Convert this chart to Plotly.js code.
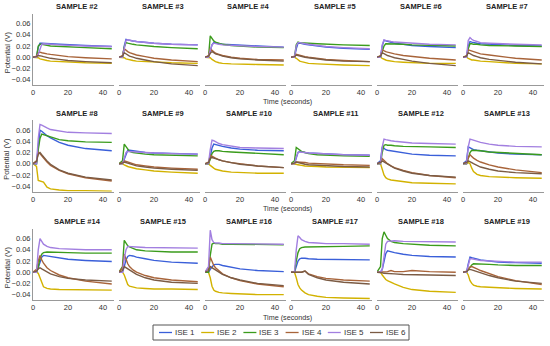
<!DOCTYPE html>
<html>
<head>
<meta charset="utf-8">
<script src="https://cdn.plot.ly/plotly-3.0.1.min.js"></script>
<style>html,body{margin:0;padding:0;background:#fff;}#chart{width:550px;height:346px;}</style>
</head>
<body>
<div id="chart"></div>
<script>
// Time axis (seconds)
const T = [0, 2, 3, 4, 5, 6, 8, 10, 15, 20, 30, 45];
const seriesNames = ['ISE 1', 'ISE 2', 'ISE 3', 'ISE 4', 'ISE 5', 'ISE 6'];
const seriesColors = ['#3a5fd9', '#d2b200', '#3b9c1c', '#a8643a', '#a27fe0', '#7b5b44'];
const sampleNames = ['SAMPLE #2','SAMPLE #3','SAMPLE #4','SAMPLE #5','SAMPLE #6','SAMPLE #7',
  'SAMPLE #8','SAMPLE #9','SAMPLE #10','SAMPLE #11','SAMPLE #12','SAMPLE #13',
  'SAMPLE #14','SAMPLE #15','SAMPLE #16','SAMPLE #17','SAMPLE #18','SAMPLE #19'];
const yTicks = [-0.04, -0.02, 0, 0.02, 0.04, 0.06];
const xTicks = [0, 20, 40];

// Potential (V) per sample: rows = ISE 1..6
const s2 = [
  [0,0,0.018,0.025,0.025,0.025,0.024,0.024,0.023,0.022,0.021,0.019],
  [0,0,-0.001,-0.003,-0.004,-0.005,-0.006,-0.007,-0.008,-0.009,-0.010,-0.011],
  [0,0,0.020,0.023,0.023,0.022,0.021,0.020,0.019,0.018,0.017,0.015],
  [0,0.002,0.008,0.009,0.008,0.007,0.006,0.005,0.003,0.001,-0.001,-0.003],
  [0,0,0.005,0.015,0.023,0.024,0.024,0.023,0.022,0.021,0.020,0.019],
  [0,0.001,0.003,0.003,0.002,0.001,-0.001,-0.002,-0.004,-0.006,-0.008,-0.010]];
const s3 = [
  [0,0,0.020,0.032,0.031,0.030,0.029,0.028,0.026,0.025,0.023,0.022],
  [0,0,-0.001,-0.003,-0.004,-0.005,-0.006,-0.007,-0.008,-0.009,-0.010,-0.011],
  [0,0,0.018,0.026,0.025,0.024,0.023,0.022,0.020,0.019,0.017,0.015],
  [0,0.003,0.015,0.012,0.010,0.008,0.006,0.004,0.001,-0.002,-0.005,-0.008],
  [0,0,0.015,0.030,0.031,0.030,0.029,0.028,0.026,0.025,0.023,0.022],
  [0,0.002,0.008,0.006,0.004,0.002,0.000,-0.002,-0.005,-0.008,-0.012,-0.015]];
const s4 = [
  [0,0,0.010,0.022,0.026,0.025,0.024,0.023,0.022,0.021,0.020,0.018],
  [0,0,-0.001,-0.004,-0.006,-0.008,-0.010,-0.011,-0.012,-0.012,-0.013,-0.014],
  [0,0,0.038,0.033,0.029,0.027,0.025,0.023,0.021,0.020,0.018,0.017],
  [0,0.003,0.015,0.012,0.009,0.007,0.005,0.003,0.000,-0.002,-0.004,-0.005],
  [0,0,0.012,0.022,0.025,0.024,0.023,0.022,0.021,0.020,0.019,0.018],
  [0,0.002,0.007,0.010,0.008,0.006,0.004,0.002,-0.001,-0.003,-0.005,-0.007]];
const s5 = [
  [0,0,0.015,0.025,0.025,0.024,0.023,0.022,0.020,0.018,0.016,0.014],
  [0,0,-0.002,-0.005,-0.007,-0.008,-0.010,-0.011,-0.012,-0.013,-0.014,-0.015],
  [0,0,0.022,0.027,0.026,0.026,0.025,0.025,0.024,0.023,0.022,0.021],
  [0,0.002,0.005,0.004,0.003,0.002,0.001,0.000,-0.002,-0.004,-0.006,-0.008],
  [0,0,0.020,0.026,0.026,0.025,0.024,0.023,0.021,0.019,0.017,0.015],
  [0,0.001,0.004,0.003,0.002,0.001,0.000,-0.001,-0.003,-0.005,-0.007,-0.008]];
const s6 = [
  [0,0,0.020,0.030,0.029,0.028,0.026,0.025,0.023,0.021,0.019,0.017],
  [0,0,-0.002,-0.004,-0.005,-0.006,-0.007,-0.008,-0.009,-0.010,-0.011,-0.011],
  [0,0,0.010,0.020,0.024,0.024,0.024,0.023,0.023,0.022,0.021,0.020],
  [0,0.003,0.013,0.011,0.010,0.009,0.007,0.006,0.003,0.001,-0.002,-0.005],
  [0,0,0.022,0.031,0.030,0.029,0.028,0.027,0.026,0.025,0.023,0.022],
  [0,0.002,0.008,0.006,0.004,0.003,0.001,-0.001,-0.004,-0.007,-0.011,-0.015]];
const s7 = [
  [0,0,0.020,0.028,0.027,0.026,0.025,0.024,0.023,0.022,0.021,0.020],
  [0,0,-0.002,-0.004,-0.005,-0.005,-0.006,-0.007,-0.008,-0.009,-0.011,-0.012],
  [0,0,0.015,0.024,0.024,0.023,0.023,0.022,0.021,0.021,0.020,0.019],
  [0,0.003,0.013,0.012,0.010,0.009,0.007,0.006,0.004,0.002,-0.002,-0.005],
  [0,0,0.030,0.035,0.032,0.030,0.028,0.026,0.025,0.024,0.023,0.022],
  [0,0.002,0.008,0.006,0.004,0.003,0.001,-0.001,-0.004,-0.006,-0.009,-0.012]];
const s8 = [
  [0,0,0.030,0.060,0.058,0.055,0.050,0.046,0.038,0.033,0.027,0.023],
  [0,-0.005,-0.030,-0.031,-0.032,-0.033,-0.042,-0.045,-0.047,-0.048,-0.048,-0.049],
  [0,0,0.025,0.045,0.053,0.052,0.050,0.047,0.043,0.041,0.039,0.038],
  [0,0.005,0.020,0.018,0.014,0.010,0.003,-0.003,-0.012,-0.018,-0.025,-0.031],
  [0,0,0.045,0.070,0.069,0.067,0.064,0.061,0.058,0.056,0.055,0.054],
  [0,0.004,0.017,0.020,0.016,0.012,0.005,-0.001,-0.011,-0.017,-0.024,-0.029]];
const s9 = [
  [0,0,0.008,0.018,0.024,0.024,0.023,0.022,0.020,0.019,0.018,0.017],
  [0,0,-0.002,-0.004,-0.005,-0.006,-0.008,-0.009,-0.011,-0.013,-0.015,-0.017],
  [0,0.005,0.035,0.030,0.025,0.022,0.020,0.019,0.017,0.016,0.015,0.014],
  [0,0.002,0.005,0.004,0.003,0.002,0.000,-0.002,-0.004,-0.006,-0.008,-0.010],
  [0,0,0.010,0.020,0.022,0.022,0.021,0.021,0.020,0.019,0.018,0.017],
  [0,0.001,0.003,0.002,0.001,0.000,-0.002,-0.004,-0.006,-0.008,-0.010,-0.012]];
const s10 = [
  [0,0,0.012,0.028,0.035,0.034,0.032,0.031,0.028,0.026,0.024,0.023],
  [0,0,-0.003,-0.006,-0.008,-0.010,-0.012,-0.013,-0.015,-0.016,-0.017,-0.017],
  [0,0,0.008,0.018,0.022,0.023,0.023,0.022,0.021,0.020,0.018,0.016],
  [0,0.003,0.015,0.013,0.011,0.010,0.007,0.005,0.002,0.000,-0.004,-0.007],
  [0,0,0.025,0.042,0.041,0.039,0.036,0.034,0.031,0.029,0.028,0.027],
  [0,0.002,0.010,0.011,0.010,0.009,0.007,0.005,0.002,-0.001,-0.004,-0.007]];
const s11 = [
  [0,0,0.010,0.020,0.022,0.021,0.020,0.019,0.018,0.017,0.016,0.015],
  [0,0,-0.001,-0.002,-0.002,-0.003,-0.004,-0.004,-0.005,-0.006,-0.006,-0.007],
  [0,0.005,0.029,0.027,0.024,0.022,0.020,0.018,0.016,0.015,0.014,0.013],
  [0,0.001,0.003,0.003,0.003,0.002,0.002,0.001,0.000,-0.001,-0.002,-0.003],
  [0,0,0.012,0.020,0.021,0.021,0.020,0.019,0.018,0.017,0.016,0.015],
  [0,0.001,0.003,0.002,0.001,0.000,-0.001,-0.002,-0.003,-0.004,-0.005,-0.006]];
const s12 = [
  [0,0.005,0.030,0.027,0.025,0.024,0.023,0.022,0.019,0.017,0.015,0.014],
  [0,0,-0.010,-0.020,-0.025,-0.027,-0.029,-0.030,-0.032,-0.034,-0.035,-0.036],
  [0,0,0.020,0.033,0.034,0.033,0.033,0.032,0.031,0.031,0.030,0.029],
  [0,0.003,0.009,0.006,0.003,0.000,-0.004,-0.007,-0.012,-0.016,-0.021,-0.025],
  [0,0,0.030,0.044,0.043,0.042,0.041,0.040,0.038,0.037,0.036,0.035],
  [0,0.002,0.005,0.003,0.001,-0.001,-0.005,-0.008,-0.013,-0.017,-0.021,-0.024]];
const s13 = [
  [0,0.005,0.030,0.028,0.026,0.025,0.024,0.023,0.021,0.019,0.017,0.016],
  [0,0,0.002,0.000,-0.008,-0.014,-0.019,-0.021,-0.023,-0.024,-0.025,-0.026],
  [0,0,0.010,0.020,0.024,0.024,0.023,0.023,0.021,0.020,0.018,0.016],
  [0,0.003,0.010,0.016,0.013,0.010,0.006,0.003,-0.002,-0.006,-0.011,-0.016],
  [0,0,0.030,0.044,0.043,0.042,0.040,0.038,0.035,0.033,0.031,0.030],
  [0,0.002,0.005,0.004,0.002,0.000,-0.003,-0.006,-0.010,-0.013,-0.016,-0.018]];
const s14 = [
  [0,0,0.008,0.020,0.027,0.030,0.029,0.028,0.025,0.023,0.021,0.019],
  [0,0,-0.002,-0.010,-0.020,-0.026,-0.029,-0.030,-0.031,-0.031,-0.032,-0.032],
  [0,0,0.010,0.025,0.032,0.035,0.036,0.036,0.035,0.035,0.034,0.034],
  [0,0.005,0.020,0.030,0.022,0.016,0.008,0.003,-0.005,-0.010,-0.016,-0.021],
  [0,0,0.040,0.060,0.055,0.050,0.046,0.044,0.042,0.041,0.040,0.040],
  [0,0.002,0.006,0.008,0.006,0.004,0.000,-0.003,-0.008,-0.011,-0.014,-0.016]];
const s15 = [
  [0,0,0.010,0.022,0.028,0.030,0.029,0.027,0.024,0.021,0.018,0.016],
  [0,0,-0.005,-0.015,-0.022,-0.025,-0.027,-0.028,-0.029,-0.030,-0.030,-0.031],
  [0,0.010,0.057,0.052,0.047,0.045,0.042,0.040,0.038,0.037,0.036,0.036],
  [0,0.008,0.032,0.022,0.015,0.010,0.004,0.000,-0.006,-0.010,-0.014,-0.017],
  [0,0,0.025,0.040,0.046,0.046,0.045,0.045,0.044,0.044,0.043,0.043],
  [0,0.003,0.010,0.008,0.005,0.003,-0.001,-0.004,-0.010,-0.014,-0.018,-0.020]];
const s16 = [
  [0,0,0.005,0.010,0.013,0.014,0.014,0.012,0.009,0.006,0.003,0.001],
  [0,0,-0.010,-0.025,-0.032,-0.034,-0.036,-0.037,-0.038,-0.039,-0.040,-0.040],
  [0,0,0.030,0.050,0.052,0.051,0.051,0.050,0.050,0.050,0.049,0.049],
  [0,0.008,0.027,0.018,0.012,0.008,0.002,-0.003,-0.010,-0.015,-0.021,-0.026],
  [0,0.010,0.075,0.058,0.053,0.052,0.052,0.051,0.051,0.051,0.050,0.050],
  [0,0.003,0.010,0.008,0.005,0.003,-0.001,-0.004,-0.010,-0.014,-0.020,-0.024]];
const s17 = [
  [0,0,0.010,0.020,0.024,0.025,0.025,0.024,0.023,0.023,0.022,0.022],
  [0,0,-0.010,-0.022,-0.028,-0.032,-0.037,-0.040,-0.043,-0.045,-0.046,-0.047],
  [0,0,0.020,0.035,0.042,0.044,0.045,0.045,0.046,0.046,0.046,0.047],
  [0,0,0.000,0.000,0.000,0.000,0.002,-0.003,-0.008,-0.011,-0.014,-0.016],
  [0,0,0.040,0.065,0.062,0.058,0.055,0.053,0.052,0.051,0.051,0.050],
  [0,0,0.000,0.000,0.000,0.000,0.002,-0.004,-0.010,-0.014,-0.018,-0.021]];
const s18 = [
  [0,0,0.005,0.020,0.033,0.038,0.037,0.035,0.032,0.030,0.028,0.027],
  [0,0,-0.005,-0.010,-0.013,-0.015,-0.018,-0.021,-0.027,-0.031,-0.034,-0.036],
  [0,0.010,0.060,0.072,0.066,0.060,0.055,0.053,0.051,0.050,0.048,0.047],
  [0,0,0.001,0.001,0.001,0.001,0.003,0.001,0.001,0.003,0.001,0.000],
  [0,0,0.005,0.030,0.050,0.055,0.056,0.056,0.055,0.055,0.055,0.054],
  [0,0,-0.001,-0.002,-0.002,-0.002,-0.003,-0.003,-0.004,-0.004,-0.005,-0.006]];
const s19 = [
  [0,0,0.015,0.027,0.026,0.025,0.023,0.022,0.020,0.018,0.017,0.016],
  [0,0,-0.005,-0.015,-0.020,-0.023,-0.025,-0.026,-0.027,-0.028,-0.029,-0.030],
  [0,0,0.005,0.010,0.013,0.015,0.015,0.015,0.014,0.013,0.012,0.012],
  [0,0.002,0.006,0.009,0.010,0.009,0.006,0.003,-0.003,-0.008,-0.015,-0.022],
  [0,0,0.012,0.024,0.024,0.023,0.022,0.021,0.020,0.019,0.018,0.018],
  [0,0.001,0.004,0.005,0.004,0.003,0.001,-0.002,-0.006,-0.010,-0.016,-0.020]];

const samples = [s2,s3,s4,s5,s6,s7,s8,s9,s10,s11,s12,s13,s14,s15,s16,s17,s18,s19];

// ---- layout geometry (pixels) ----
const W = 550, H = 346;
const colX0 = 33, colPitch = 86, plotW = 80.5;
const rowTop = [13.5, 120, 228.5], plotH = 71.7;
const px = v => v / W;
const py = v => 1 - v / H;
const FONT = 'Liberation Sans, Arial, sans-serif';

const traces = [];
const layout = {
  width: W, height: H,
  margin: {l: 0, r: 0, t: 0, b: 0},
  paper_bgcolor: '#fff', plot_bgcolor: 'rgba(0,0,0,0)',
  showlegend: false,
  font: {family: FONT, size: 7.5, color: '#333'},
  annotations: [], shapes: []
};

samples.forEach((s, i) => {
  const r = Math.floor(i / 6), c = i % 6;
  const xa = i === 0 ? 'x' : 'x' + (i + 1);
  const ya = i === 0 ? 'y' : 'y' + (i + 1);
  const x0 = colX0 + colPitch * c;
  const top = rowTop[r];
  s.forEach((vals, j) => {
    traces.push({
      x: T, y: vals, xaxis: xa, yaxis: ya, type: 'scatter', mode: 'lines',
      name: seriesNames[j], line: {color: seriesColors[j], width: 1.4},
      hoverinfo: 'skip'
    });
  });
  layout['xaxis' + (i === 0 ? '' : i + 1)] = {
    domain: [px(x0), px(x0 + plotW)], anchor: ya,
    range: [0, 46], tickvals: xTicks, ticks: '',
    showline: true, linecolor: '#999', linewidth: 1,
    showgrid: false, zeroline: false, fixedrange: true,
    tickfont: {family: FONT, size: 7.5, color: '#333'}
  };
  layout['yaxis' + (i === 0 ? '' : i + 1)] = {
    domain: [py(top + plotH), py(top)], anchor: xa,
    range: [-0.05, 0.078], tickvals: yTicks, tickformat: '.2f',
    showticklabels: c === 0, ticks: '',
    showline: c === 0, linecolor: '#999', linewidth: 1,
    showgrid: false, zeroline: false, fixedrange: true,
    tickfont: {family: FONT, size: 7.5, color: '#333'}
  };
  layout.annotations.push({
    text: '<b>' + sampleNames[i] + '</b>', xref: 'paper', yref: 'paper',
    x: px(x0 + 44), y: py(top - 6.5), xanchor: 'center', yanchor: 'middle',
    showarrow: false, font: {family: FONT, size: 7.5, color: '#222'}
  });
  if (c === 0) {
    layout.annotations.push({
      text: 'Potential (V)', xref: 'paper', yref: 'paper', textangle: -90,
      x: px(7), y: py(top + plotH / 2 + 3), xanchor: 'center', yanchor: 'middle',
      showarrow: false, font: {family: FONT, size: 7.5, color: '#333'}
    });
  }
});

// "Time (seconds)" labels per row
const timeLabelY = [101.5, 208, 317.5];
timeLabelY.forEach(yv => {
  layout.annotations.push({
    text: 'Time (seconds)', xref: 'paper', yref: 'paper',
    x: px(287), y: py(yv), xanchor: 'center', yanchor: 'middle',
    showarrow: false, font: {family: FONT, size: 7.2, color: '#333'}
  });
});

// Custom legend box
const legL = 153, legR = 409, legT = 325, legB = 340, legMid = 332.5;
layout.shapes.push({
  type: 'rect', xref: 'paper', yref: 'paper',
  x0: px(legL), x1: px(legR), y0: py(legB), y1: py(legT),
  line: {color: '#555', width: 1}, fillcolor: 'rgba(0,0,0,0)'
});
seriesNames.forEach((n, j) => {
  const lx = 159 + 42.2 * j;
  layout.shapes.push({
    type: 'line', xref: 'paper', yref: 'paper',
    x0: px(lx), x1: px(lx + 13), y0: py(legMid), y1: py(legMid),
    line: {color: seriesColors[j], width: 1.3}
  });
  layout.annotations.push({
    text: n, xref: 'paper', yref: 'paper', x: px(lx + 14), y: py(legMid),
    xanchor: 'left', yanchor: 'middle', showarrow: false,
    font: {family: FONT, size: 8, color: '#333'}
  });
});

Plotly.newPlot('chart', traces, layout, {staticPlot: true, displayModeBar: false});
</script>
</body>
</html>
